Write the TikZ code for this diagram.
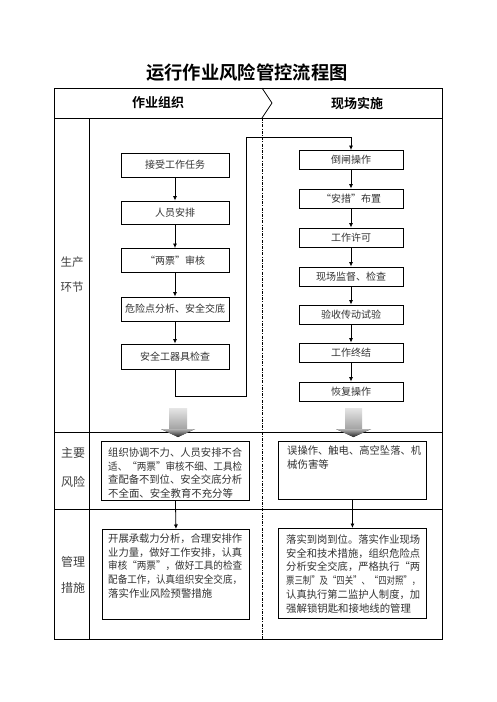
\documentclass[tikz,border=0pt]{standalone}
\usepackage{fontspec}
\usepackage{graphicx}
\setmainfont{Noto Sans CJK SC}[BoldFont={Noto Sans CJK SC Bold}]
\usetikzlibrary{arrows.meta}

% full-width justified line inside the text boxes
\newcommand{\jline}[1]{\resizebox{134pt}{\height}{#1}}

\begin{document}
\begin{tikzpicture}[x=1pt,y=-1pt,
  flowbox/.style={draw,line width=0.9pt,minimum width=108pt,minimum height=24pt,
    inner sep=0pt,font=\fontsize{10}{12}\selectfont,text=black!80},
  rbox/.style={flowbox,minimum width=104pt,minimum height=19pt},
  textbox/.style={draw,line width=0.9pt,anchor=north west,inner sep=0pt},
  para/.style={anchor=north west,align=left,inner sep=0pt,
    font=\fontsize{10.4}{13.7}\selectfont,text=black!80},
  gridline/.style={line width=0.8pt},
  flow/.style={line width=0.8pt,-{Latex[length=4.5pt,width=4pt]}},
  rowlabel/.style={font=\fontsize{12}{14}\selectfont,text=black!75},
  bigshaft/.style={top color=gray!20,bottom color=gray!75,draw=none},
  bighead/.style={top color=gray!60,bottom color=black!85,draw=none},
]
\fill[white] (0,0) rectangle (496,702);
\useasboundingbox (0,0) rectangle (496,702);

% title and table frame
\node[font=\bfseries\fontsize{18.3}{20}\selectfont] (title) at (247,73) {运行作业风险管控流程图};
\draw[gridline] (54,88) rectangle (442,639);
\draw[gridline] (54,118) -- (442,118);
\draw[gridline] (262,88) -- (272,103) -- (262,118);
\draw[gridline] (89,118) -- (89,639);
\draw[gridline] (54,432) -- (442,432);
\draw[gridline] (54,509) -- (442,509);
\draw[line width=0.7pt,dash pattern=on 3pt off 1.2pt on 1pt off 1.2pt] (262,118) -- (262,639);

% column headers
\node[font=\bfseries\fontsize{13}{15}\selectfont] (hdrL) at (158,103) {作业组织};
\node[font=\bfseries\fontsize{13}{15}\selectfont] (hdrR) at (357,103) {现场实施};

% row labels
\node[rowlabel,font=\fontsize{11.5}{13}\selectfont] (rowA1) at (72,262) {生产};
\node[rowlabel,font=\fontsize{11.5}{13}\selectfont] (rowA2) at (72,287) {环节};
\node[rowlabel] (rowB1) at (73,453) {主要};
\node[rowlabel] (rowB2) at (73,482) {风险};
\node[rowlabel] (rowC1) at (73,562) {管理};
\node[rowlabel] (rowC2) at (73,588) {措施};

% organisation steps
\node[flowbox] (L1) at (175,165) {接受工作任务};
\node[flowbox,minimum height=23pt] (L2) at (175,212.5) {人员安排};
\node[flowbox] (L3) at (175,260.5) {“两票”审核};
\node[flowbox] (L4) at (175,309) {危险点分析、安全交底};
\node[flowbox,minimum height=25pt] (L5) at (175,356.5) {安全工器具检查};

% site steps
\node[rbox] (R1) at (351,160) {倒闸操作};
\node[rbox] (R2) at (351,198.5) {“安措”布置};
\node[rbox] (R3) at (351,237.5) {工作许可};
\node[rbox] (R4) at (351,276.5) {现场监督、检查};
\node[rbox] (R5) at (351,314.5) {验收传动试验};
\node[rbox] (R6) at (351,352.5) {工作终结};
\node[rbox] (R7) at (351,391.5) {恢复操作};

\draw[flow] (L1) -- (L2);
\draw[flow] (L2) -- (L3);
\draw[flow] (L3) -- (L4);
\draw[flow] (L4) -- (L5);
\draw[flow] (R1) -- (R2);
\draw[flow] (R2) -- (R3);
\draw[flow] (R3) -- (R4);
\draw[flow] (R4) -- (R5);
\draw[flow] (R5) -- (R6);
\draw[flow] (R6) -- (R7);

\coordinate (k1) at (175,396);
\coordinate (k2) at (246,396);
\coordinate (k3) at (246,137);
\coordinate (k4) at (351,137);
\draw[flow] (L5.south) -- (k1) -- (k2) -- (k3) -- (k4) -- (R1.north);

% broad shaded arrows into the risk row
\fill[bigshaft] (169,408) rectangle (187,430);
\fill[bighead] (161,429) -- (195,429) -- (178,437) -- cycle;
\fill[bigshaft] (345,408) rectangle (362,430);
\fill[bighead] (336,429) -- (371,429) -- (353.5,437) -- cycle;

% risks
\node[textbox,minimum width=148pt,minimum height=59pt] (riskL) at (101,441) {};
\node[para] (riskLt) at (108,447.5) {\jline{组织协调不力、人员安排不合}\\
\jline{适、“两票”审核不细、工具检}\\
\jline{查配备不到位、安全交底分析}\\
不全面、安全教育不充分等};
\node[textbox,minimum width=148pt,minimum height=58pt] (riskR) at (278,441) {};
\node[para] (riskRt) at (287,445.5) {\jline{误操作、触电、高空坠落、机}\\
械伤害等};

% measures
\node[textbox,minimum width=147pt,minimum height=90pt] (measL) at (102,529) {};
\node[para] (measLt) at (108,533.5) {\jline{开展承载力分析，合理安排作}\\
\jline{业力量，做好工作安排，认真}\\
\jline{审核“两票”，做好工具的检查}\\
\jline{配备工作，认真组织安全交底，}\\
落实作业风险预警措施};
\node[textbox,minimum width=148pt,minimum height=90pt] (measR) at (278,528) {};
\node[para] (measRt) at (286,534.5) {\jline{落实到岗到位。落实作业现场}\\
\jline{安全和技术措施，组织危险点}\\
\jline{分析安全交底，严格执行“两}\\
\jline{票三制”及“四关”、“四对照”，}\\
\jline{认真执行第二监护人制度，加}\\
强解锁钥匙和接地线的管理};

\draw[flow] (riskL.south) -- (measL.north);
\draw[flow] (riskR.south) -- (measR.north);
\end{tikzpicture}
\end{document}
